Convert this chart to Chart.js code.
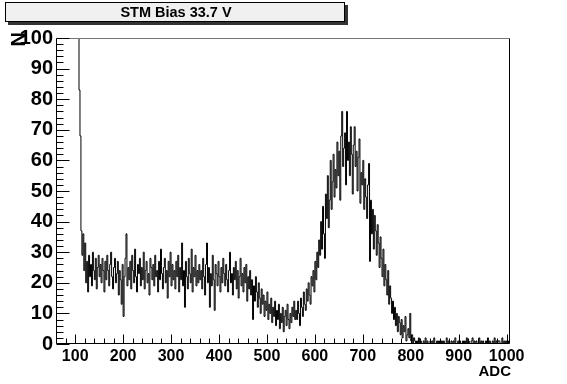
<!DOCTYPE html>
<html><head><meta charset="utf-8">
<script src="https://cdn.jsdelivr.net/npm/chart.js@4"></script>
<style>html,body{margin:0;padding:0;background:#fff;}#wrap{width:567px;height:384px;position:relative;}</style>
</head><body><div id="wrap"><canvas id="c" width="567" height="384"></canvas></div>
<script>
const titleText = 'STM Bias 33.7 V';
const xTitle = 'ADC';
const yTitle = 'N';
const binLow = 62;
const binWidth = 2;
const counts = [
  150,150,150,150,150,150,150,150,150,150,150,150,150,150,150,150,150,150,150,150,150,150,150,83,68,
  37,29,36,24,33,20,27,17,29,22,26,19,30,24,21,28,18,25,29,22,26,20,28,24,17,
  27,21,29,24,19,26,30,22,18,25,28,20,23,27,16,24,21,13,26,9,22,28,36,19,25,
  21,27,18,29,24,20,31,22,17,26,23,28,19,25,21,30,18,24,27,20,23,16,28,25,21,
  26,19,29,22,24,17,27,21,31,23,18,25,28,20,24,15,27,22,30,19,26,21,24,18,27,
  22,29,17,25,21,33,19,24,12,27,22,18,28,23,20,31,17,25,22,29,19,24,20,26,21,
  24,18,28,22,16,26,33,20,25,12,23,19,29,21,11,26,23,19,27,22,17,25,20,28,23,
  19,26,21,17,24,30,20,23,16,25,21,27,18,24,15,22,28,19,23,17,25,20,26,14,22,
  18,24,16,21,8,19,14,22,17,12,20,15,10,18,13,16,9,14,11,17,8,13,10,15,7,
  12,9,14,6,11,8,13,5,10,7,12,4,9,11,6,13,8,5,10,7,12,9,14,8,11,
  8,14,10,6,15,12,9,17,13,11,18,14,20,16,13,22,19,24,17,27,21,30,25,34,29,
  40,31,45,36,28,49,41,55,38,47,60,44,53,62,48,57,51,66,55,63,47,68,76,58,64,
  69,52,76,60,66,55,71,62,49,65,71,58,63,50,61,67,46,56,52,60,44,54,48,41,52,
  59,27,47,36,44,31,42,37,29,39,33,25,35,28,22,31,19,26,21,16,24,13,19,15,10,
  14,8,12,6,10,4,9,7,3,8,2,6,4,9,1,3,5,2,10,1,3,0,2,1,0,
  1,0,2,0,1,0,0,1,0,2,0,1,0,0,1,0,1,0,2,0,0,1,0,1,0,
  0,1,0,1,0,0,2,0,1,0,0,1,0,1,0,2,0,0,1,0,1,0,0,1,0,
  1,0,2,0,1,0,0,1,2,0,1,0,1,0,0,2,0,1,0,1,0,0,1,0,2,
  0,1,0,0,1,0,2,0,1,0,1,1,0,0,2,0,1,0,1,0,0,1
];
const xTickLabels = [100,200,300,400,500,600,700,800,900,1000];
const yTickLabels = [0,10,20,30,40,50,60,70,80,90,100];
const xRange = [60, 1007];
const yRange = [0, 100];
const xMinorStep = 20;
const yMinorStep = 2;

const points = counts.map((c, i) => ({x: binLow + i * binWidth, y: c}));
points.push({x: binLow + counts.length * binWidth, y: counts[counts.length - 1]});

const FONT = 'Liberation Sans, Arial, Helvetica, sans-serif';

const rootDeco = {
  id: 'rootDeco',
  afterDraw(chart) {
    const ctx = chart.ctx;
    const a = chart.chartArea;
    const xs = chart.scales.x, ys = chart.scales.y;
    ctx.save();
    ctx.lineWidth = 1;
    const L = Math.round(a.left) + 0.5, R = Math.round(a.right) - 0.5;
    const T = Math.round(a.top) + 0.5, B = Math.round(a.bottom) - 0.5;
    ctx.beginPath();
    ctx.strokeStyle = '#777';
    ctx.moveTo(L, T); ctx.lineTo(R, T);
    ctx.stroke();
    ctx.beginPath();
    ctx.strokeStyle = '#000';
    ctx.moveTo(R, T); ctx.lineTo(R, B);
    ctx.moveTo(L, T); ctx.lineTo(L, B); ctx.lineTo(R, B);
    ctx.stroke();
    ctx.beginPath();
    for (let v = yRange[0]; v <= yRange[1] + 1e-9; v += yMinorStep) {
      const py = Math.round(ys.getPixelForValue(v)) + 0.5;
      const len = (yTickLabels.includes(v)) ? 13 : 7;
      ctx.moveTo(L, py); ctx.lineTo(L + len, py);
    }
    for (let v = Math.ceil(xRange[0] / xMinorStep) * xMinorStep; v <= xRange[1]; v += xMinorStep) {
      const px = Math.round(xs.getPixelForValue(v)) + 0.5;
      const len = (xTickLabels.includes(v)) ? 9 : 5;
      ctx.moveTo(px, B); ctx.lineTo(px, B - len);
    }
    ctx.stroke();
    ctx.fillStyle = '#333';
    ctx.fillRect(8, 5, 340, 20);
    ctx.fillStyle = '#f0f0f0';
    ctx.fillRect(5, 2, 340, 20);
    ctx.strokeStyle = '#000';
    ctx.strokeRect(5.5, 2.5, 339, 19);
    ctx.fillStyle = '#000';
    ctx.font = 'bold 14.5px ' + FONT;
    ctx.textAlign = 'center';
    ctx.textBaseline = 'middle';
    ctx.fillText(titleText, 176, 12.5);
    ctx.font = 'bold 15px ' + FONT;
    ctx.textAlign = 'right';
    ctx.textBaseline = 'alphabetic';
    ctx.fillText(xTitle, 511, 376);
    ctx.save();
    ctx.translate(19, 32);
    ctx.rotate(-Math.PI / 2);
    ctx.font = 'bold 20px ' + FONT;
    ctx.textAlign = 'right';
    ctx.textBaseline = 'middle';
    ctx.fillText(yTitle, 0, 0);
    ctx.restore();
    ctx.restore();
  }
};

new Chart(document.getElementById('c'), {
  type: 'line',
  data: {
    datasets: [{
      data: points,
      borderColor: '#000',
      borderWidth: 1,
      pointRadius: 0,
      stepped: 'before',
      fill: false,
      tension: 0
    }]
  },
  options: {
    responsive: false,
    animation: false,
    devicePixelRatio: 1,
    layout: {padding: {top: 38, right: 57, left: 0, bottom: 0}},
    plugins: {legend: {display: false}, tooltip: {enabled: false}, title: {display: false}},
    scales: {
      x: {
        type: 'linear', min: xRange[0], max: xRange[1],
        grid: {display: false, drawTicks: false},
        border: {display: false},
        ticks: {color: '#000', font: {family: FONT, weight: 'bold', size: 16}, padding: 3, maxRotation: 0, autoSkip: false,
          callback: v => String(v)},
        afterBuildTicks: s => { s.ticks = xTickLabels.map(v => ({value: v})); },
        afterFit: s => { s.height = 40; }
      },
      y: {
        type: 'linear', min: yRange[0], max: yRange[1],
        grid: {display: false, drawTicks: false},
        border: {display: false},
        ticks: {color: '#000', font: {family: FONT, weight: 'bold', size: 20}, padding: 3, autoSkip: false,
          callback: v => String(v)},
        afterBuildTicks: s => { s.ticks = yTickLabels.map(v => ({value: v})); },
        afterFit: s => { s.width = 56; }
      }
    }
  },
  plugins: [rootDeco]
});
</script></body></html>
